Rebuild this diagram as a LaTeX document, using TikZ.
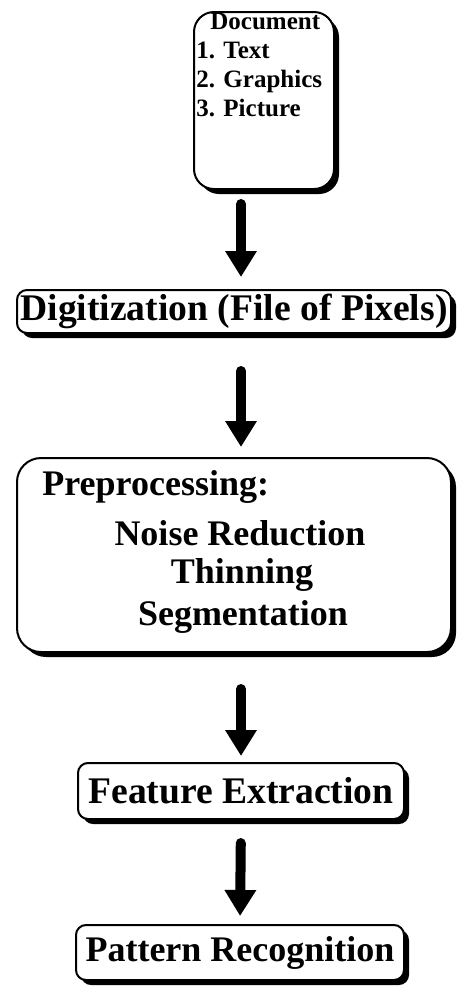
\documentclass[tikz,border=0pt]{standalone}
\usepackage{fontspec}
\setmainfont{Liberation Serif}
\usetikzlibrary{arrows.meta,shadows}

\begin{document}
\begin{tikzpicture}[x=0.5pt, y=-0.5pt,
  stage/.style={draw, line width=1pt, fill=white, rounded corners=5pt, inner sep=0pt,
    drop shadow={opacity=1, fill=black, shadow xshift=2.5pt, shadow yshift=-2.5pt},
    font=\bfseries\fontsize{18}{21.5}\selectfont},
  txt/.style={inner sep=0pt, font=\bfseries\fontsize{18}{21.5}\selectfont},
  flow/.style={line width=5pt, line cap=round, -{Triangle[width=15pt, length=13pt]}}]
  \useasboundingbox (0,0) rectangle (459,987);
  \node[stage, minimum width=70pt, minimum height=88.5pt, rounded corners=10pt] (doc) at (264,100.5) {};
  \node[txt, anchor=north west, font=\bfseries\fontsize{12.5}{14.5}\selectfont] (doctext) at (196,9)
    {\begin{tabular}{@{}l@{}}\multicolumn{1}{@{}c@{}}{\hspace*{6pt}Document}\\1. Text\\2. Graphics\\3. Picture\end{tabular}};
  \node[stage, minimum width=217pt, minimum height=21.5pt, font=\bfseries\fontsize{18.8}{21.5}\selectfont] (dig) at (234,311.5) {Digitization (File of Pixels)};
  \node[stage, minimum width=217pt, minimum height=97pt, rounded corners=12pt] (prep) at (234,555) {};
  \node[txt, anchor=west] (pre) at (42,487) {Preprocessing:};
  \node[txt] (noise) at (240,533) {Noise Reduction};
  \node[txt] (thin) at (242,575) {Thinning};
  \node[txt] (seg) at (243,617) {Segmentation};
  \node[stage, minimum width=163pt, minimum height=28pt, font=\bfseries\fontsize{18.8}{21.5}\selectfont] (feat) at (241,791) {Feature Extraction};
  \node[stage, minimum width=164pt, minimum height=27.5pt] (pat) at (240,952.5) {Pattern Recognition};
  % arrows between the stages
  \draw[flow, shorten <=7pt, shorten >=6pt] (doc.south -| feat.north) -- (dig.north -| feat.north);
  \draw[flow, shorten <=18.5pt, shorten >=5pt] (dig.south -| feat.north) -- (prep.north -| feat.north);
  \draw[flow, shorten <=18pt, shorten >=3pt] (prep.south -| feat.north) -- (feat.north);
  \draw[flow, shorten <=11.5pt, shorten >=4pt] (feat.south) -- (pat.north);
\end{tikzpicture}
\end{document}
